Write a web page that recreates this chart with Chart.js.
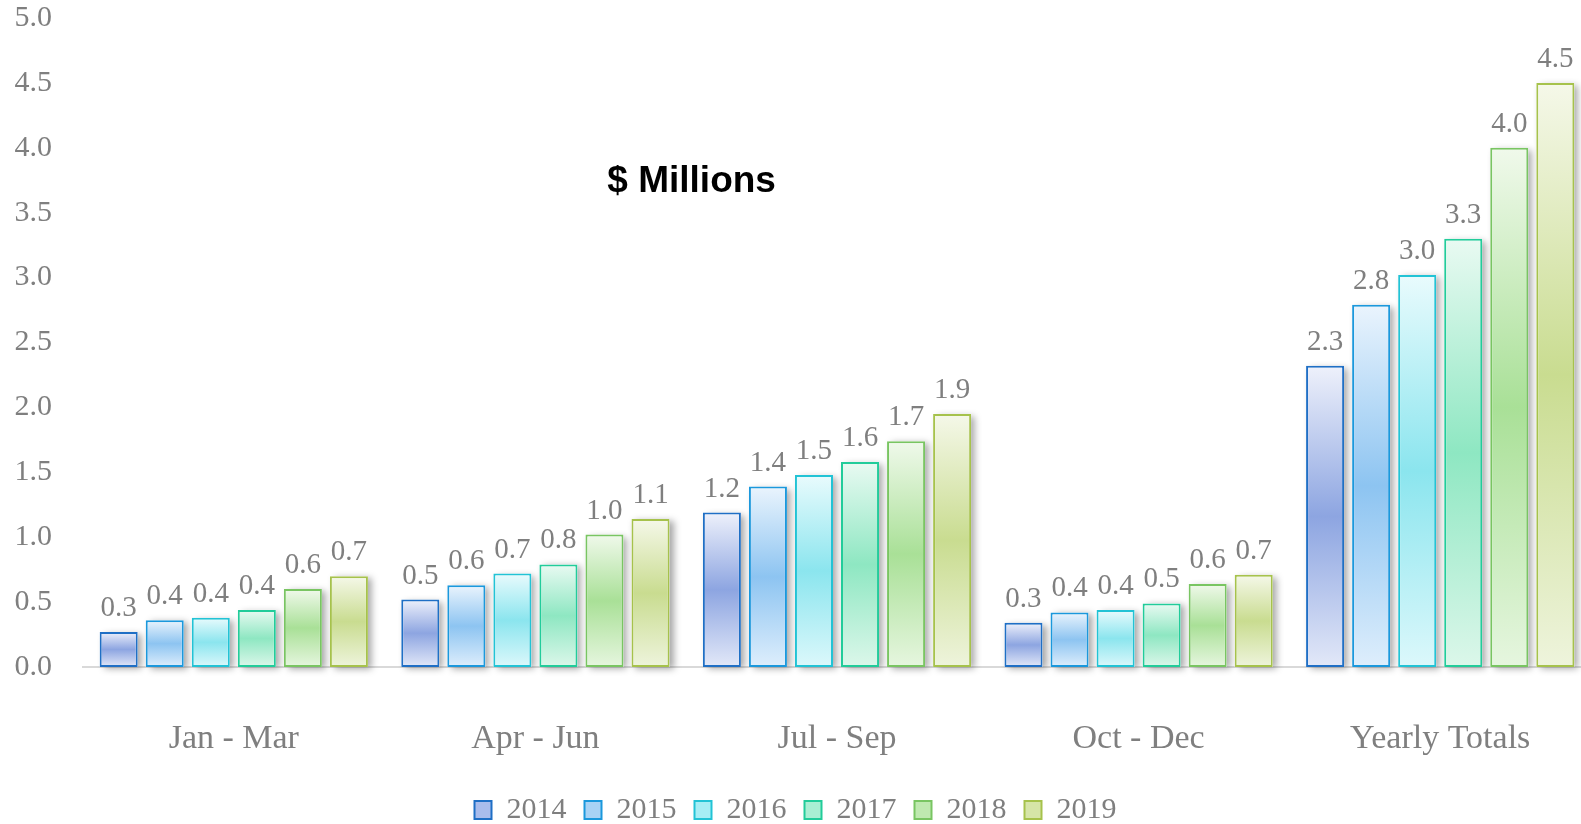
<!DOCTYPE html>
<html>
<head>
<meta charset="utf-8">
<title>$ Millions</title>
<script src="https://cdn.jsdelivr.net/npm/chart.js@4"></script>
<style>
  html, body { margin: 0; padding: 0; background: #fff; overflow: hidden; }
  #wrap { width: 1591px; height: 835px; }
</style>
</head>
<body>
<div id="wrap"><canvas id="chartQuarters"></canvas></div>
<script>
// ── data ────────────────────────────────────────────
const quarters = ["Jan - Mar", "Apr - Jun", "Jul - Sep", "Oct - Dec", "Yearly Totals"];
const years = ["2014", "2015", "2016", "2017", "2018", "2019"];

const v2014 = [0.27, 0.52, 1.19, 0.34, 2.32];
const v2015 = [0.36, 0.63, 1.39, 0.42, 2.79];
const v2016 = [0.38, 0.72, 1.48, 0.44, 3.02];
const v2017 = [0.44, 0.79, 1.58, 0.49, 3.30];
const v2018 = [0.60, 1.02, 1.74, 0.64, 4.00];
const v2019 = [0.70, 1.14, 1.95, 0.71, 4.50];

const yMax = 5.0;
const yStep = 0.5;
const chartTitle = "$ Millions";

// ── styles ──────────────────────────────────────────
const seriesStyle = [
  { border: "#1f6fc5", edge: "#eef1fb", center: "#8da5e1", low: "#e2e8f8", legend: "#a9bcec" },
  { border: "#1b98dc", edge: "#eaf4fd", center: "#8dc4f1", low: "#deeefc", legend: "#a8d2f5" },
  { border: "#22c3d5", edge: "#e9fbfd", center: "#8be5ee", low: "#dcf8fb", legend: "#a6eef5" },
  { border: "#22cc9a", edge: "#e9faf2", center: "#8ee7c2", low: "#dcf7ea", legend: "#a9efd3" },
  { border: "#79c562", edge: "#f0f9eb", center: "#a9e097", low: "#e6f6df", legend: "#bfe9b0" },
  { border: "#a6c24c", edge: "#f5f8e9", center: "#c9dc90", low: "#eef4dc", legend: "#d6e5a8" },
];
const textGrey = "#7f7f7f";

Chart.defaults.font.family = "'Liberation Serif', serif";
Chart.defaults.color = textGrey;

function barFill(ctx, s) {
  const chart = ctx.chart;
  const y = chart.scales && chart.scales.y;
  if (ctx.type !== "data" || !y) return s.center;
  const top = y.getPixelForValue(ctx.raw);
  const bottom = y.getPixelForValue(0);
  if (!isFinite(top) || !isFinite(bottom) || top === bottom) return s.center;
  const g = chart.ctx.createLinearGradient(0, top, 0, bottom);
  g.addColorStop(0, s.edge);
  g.addColorStop(0.5, s.center);
  g.addColorStop(1, s.low);
  return g;
}

// soft grey shadow behind each bar
const barShadow = {
  id: "barShadow",
  beforeDatasetsDraw(chart) {
    const c = chart.ctx;
    c.save();
    c.shadowColor = "rgba(0,0,0,0.35)";
    c.shadowBlur = 7;
    c.shadowOffsetX = 4;
    c.shadowOffsetY = 2;
    c.fillStyle = "#ffffff";
    chart.data.datasets.forEach((ds, i) => {
      chart.getDatasetMeta(i).data.forEach((bar) => {
        const p = bar.getProps(["x", "y", "base", "width"], true);
        c.fillRect(p.x - p.width / 2, p.y, p.width, p.base - p.y);
      });
    });
    c.restore();
  },
};

// value labels above bars
const valueLabels = {
  id: "valueLabels",
  afterDatasetsDraw(chart) {
    const c = chart.ctx;
    c.save();
    c.font = "29px 'Liberation Serif'";
    c.fillStyle = textGrey;
    c.textAlign = "center";
    c.textBaseline = "alphabetic";
    chart.data.datasets.forEach((ds, i) => {
      chart.getDatasetMeta(i).data.forEach((bar, j) => {
        c.fillText(ds.data[j].toFixed(1), bar.x, bar.y - 16);
      });
    });
    c.restore();
  },
};

// "$ Millions" caption inside the plot
const caption = {
  id: "caption",
  afterDraw(chart) {
    const { left, top, width } = chart.chartArea;
    const c = chart.ctx;
    c.save();
    c.font = "bold 37px 'Liberation Sans', Arial, sans-serif";
    c.fillStyle = "#000000";
    c.textAlign = "center";
    c.textBaseline = "alphabetic";
    c.fillText(chartTitle, left + width * 0.4036, top + 174);
    c.restore();
  },
};

const seriesValues = [v2014, v2015, v2016, v2017, v2018, v2019];

new Chart(document.getElementById("chartQuarters"), {
  type: "bar",
  data: {
    labels: quarters,
    datasets: years.map((yr, i) => ({
      label: yr,
      data: seriesValues[i],
      backgroundColor: (ctx) => barFill(ctx, seriesStyle[i]),
      borderColor: seriesStyle[i].border,
      borderWidth: 2,
      borderSkipped: false,
      categoryPercentage: 0.916,
      barPercentage: 0.826,
    })),
  },
  options: {
    responsive: true,
    maintainAspectRatio: false,
    animation: false,
    layout: { padding: { top: 18, bottom: 0, left: 0, right: 0 } },
    scales: {
      x: {
        grid: { display: false },
        border: { color: "#d9d9d9", width: 2 },
        ticks: { font: { size: 34 }, color: textGrey, padding: 44 },
        afterFit: (scale) => { scale.height = 110; },
      },
      y: {
        min: 0,
        max: yMax,
        grid: { display: false, drawTicks: false },
        border: { display: false },
        ticks: {
          stepSize: yStep,
          font: { size: 30 },
          color: textGrey,
          padding: 31,
          callback: (v) => Number(v).toFixed(1),
        },
        afterFit: (scale) => {
          scale.width = 83;
          scale.paddingTop = 0;
          scale.paddingBottom = 0;
        },
      },
    },
    plugins: {
      legend: {
        position: "bottom",
        labels: {
          boxWidth: 17,
          boxHeight: 18,
          padding: 18,
          font: { size: 30 },
          color: textGrey,
          generateLabels: (chart) =>
            chart.data.datasets.map((ds, i) => ({
              text: ds.label,
              fillStyle: seriesStyle[i].legend,
              strokeStyle: seriesStyle[i].border,
              lineWidth: 2,
              fontColor: textGrey,
              hidden: false,
              datasetIndex: i,
            })),
        },
      },
      tooltip: { enabled: false },
    },
  },
  plugins: [barShadow, valueLabels, caption],
});
</script>
</body>
</html>
